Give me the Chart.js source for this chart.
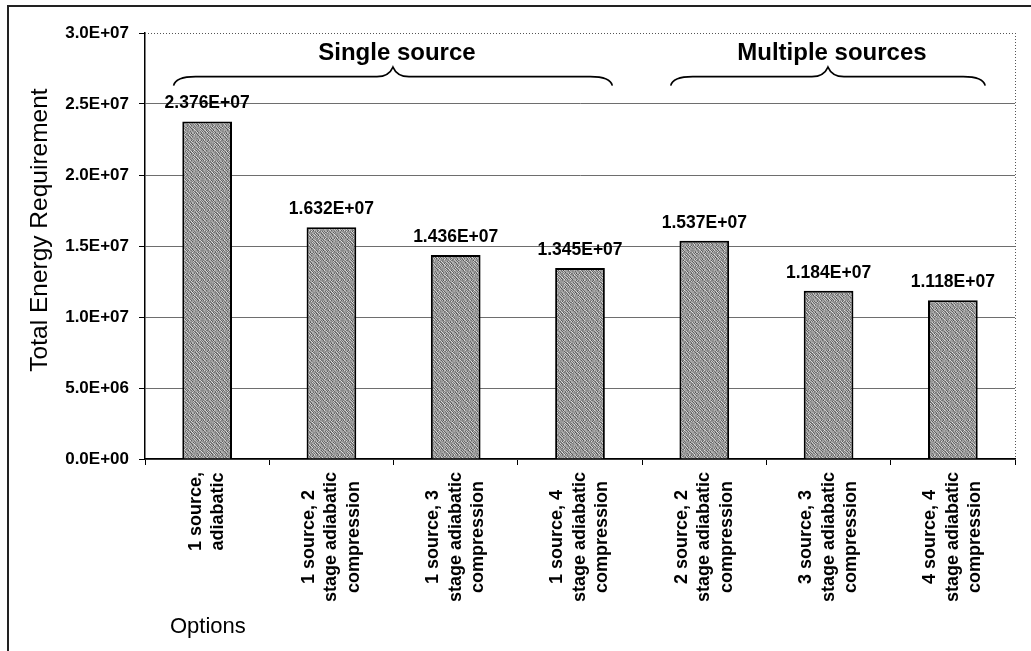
<!DOCTYPE html>
<html>
<head>
<meta charset="utf-8">
<script src="https://cdn.jsdelivr.net/npm/chart.js@4/dist/chart.umd.min.js"></script>
<style>
  html, body { margin: 0; padding: 0; background: #fff; }
  #wrap { width: 1031px; height: 651px; position: relative; }
</style>
</head>
<body>
<div id="wrap"><canvas id="c" width="1031" height="651"></canvas></div>
<script>
// Option names, one array of text lines per bar
const categories = [
  ['1 source,', 'adiabatic'],
  ['1 source, 2', 'stage adiabatic', 'compression'],
  ['1 source, 3', 'stage adiabatic', 'compression'],
  ['1 source, 4', 'stage adiabatic', 'compression'],
  ['2 source, 2', 'stage adiabatic', 'compression'],
  ['3 source, 3', 'stage adiabatic', 'compression'],
  ['4 source, 4', 'stage adiabatic', 'compression']
];

// Total energy requirement per option
const energyValues = [2.376e7, 1.632e7, 1.436e7, 1.345e7, 1.537e7, 1.184e7, 1.118e7];

// Value-axis ticks
const yTicks = [0, 5e6, 1e7, 1.5e7, 2e7, 2.5e7, 3e7];

// Bracketed groups above the bars (indices into categories)
const groupNames = ['Single source', 'Multiple sources'];
const groupFrom = [0, 4];
const groupTo = [3, 6];

const FONT = '"Liberation Sans", Arial, sans-serif';

// Excel-style scientific notation, e.g. 2.376E+07
function sci(v, digits) {
  if (v === 0) return (0).toFixed(digits) + 'E+00';
  let exp = Math.floor(Math.log10(Math.abs(v)));
  let man = v / Math.pow(10, exp);
  if (Math.abs(parseFloat(man.toFixed(digits))) >= 10) { exp += 1; man = v / Math.pow(10, exp); }
  const sign = exp < 0 ? '-' : '+';
  const e = String(Math.abs(exp)).padStart(2, '0');
  return man.toFixed(digits) + 'E' + sign + e;
}

// Grainy grey fill for the bars: two small tiles of different period overlaid
function makeStipple(ctx) {
  const A = [
    210, 120, 180,  95, 230,
    150, 235, 110, 200, 140,
    100, 170, 245, 130, 190,
    225,  90, 155, 215, 120,
    140, 200, 105, 170, 240
  ];
  const B = [
    120, 200,  90, 230, 160, 110, 190,
    180, 100, 220, 140,  80, 210, 150,
    240, 150, 110, 190, 230, 120, 100,
     90, 210, 170, 100, 150, 240, 130,
    160, 120, 240,  80, 200, 140, 220,
    210,  90, 140, 230, 110, 180, 120,
    130, 230, 100, 160, 220,  90, 200
  ];
  const n = 35;
  const c = document.createElement('canvas');
  c.width = n; c.height = n;
  const g = c.getContext('2d');
  const img = g.createImageData(n, n);
  for (let y = 0; y < n; y++) {
    for (let x = 0; x < n; x++) {
      const a = A[(y % 5) * 5 + (x % 5)];
      const b = B[(y % 7) * 7 + (x % 7)];
      const v = Math.max(0, Math.min(255, Math.round((a + b) / 2 - 12)));
      const k = (y * n + x) * 4;
      img.data[k] = v; img.data[k + 1] = v; img.data[k + 2] = v; img.data[k + 3] = 255;
    }
  }
  g.putImageData(img, 0, 0);
  return ctx.createPattern(c, 'repeat');
}

const ctx0 = document.getElementById('c').getContext('2d');

// Frame, dotted plot edges and the y-axis / x-axis titles
const framePlugin = {
  id: 'frame',
  beforeDraw(chart) {
    const ctx = chart.ctx;
    ctx.save();
    ctx.fillStyle = '#fff';
    ctx.fillRect(0, 0, chart.width, chart.height);
    ctx.strokeStyle = '#222';
    ctx.lineWidth = 2;
    ctx.beginPath();
    ctx.moveTo(8, chart.height);
    ctx.lineTo(8, 6);
    ctx.lineTo(chart.width, 6);
    ctx.stroke();
    ctx.restore();
  },
  afterDraw(chart) {
    const ctx = chart.ctx;
    const a = chart.chartArea;
    ctx.save();
    // dotted top and right edges of the plot area
    ctx.strokeStyle = '#555';
    ctx.lineWidth = 1;
    ctx.setLineDash([1, 2]);
    ctx.beginPath();
    ctx.moveTo(a.left, a.top + 0.5);
    ctx.lineTo(a.right, a.top + 0.5);
    ctx.moveTo(a.right + 0.5, a.top);
    ctx.lineTo(a.right + 0.5, a.bottom);
    ctx.stroke();
    ctx.setLineDash([]);

    // axis titles
    ctx.fillStyle = '#000';
    ctx.font = '24.5px ' + FONT;
    ctx.textAlign = 'center';
    ctx.textBaseline = 'middle';
    ctx.save();
    ctx.translate(40, 230);
    ctx.rotate(-Math.PI / 2);
    ctx.fillText('Total Energy Requirement', 0, 0);
    ctx.restore();
    ctx.font = '22px ' + FONT;
    ctx.textAlign = 'left';
    ctx.fillText('Options', 170, 627);
    ctx.restore();
  }
};

// Rotated, multi-line category labels under the x axis
const catLabelPlugin = {
  id: 'catLabels',
  afterDraw(chart) {
    const ctx = chart.ctx;
    const xs = chart.scales.x;
    const top = chart.chartArea.bottom + 13;
    const lineGap = 22.5;
    ctx.save();
    ctx.fillStyle = '#000';
    ctx.font = 'bold 18px ' + FONT;
    ctx.textAlign = 'center';
    ctx.textBaseline = 'middle';
    categories.forEach((lines, i) => {
      const cx = xs.getPixelForValue(i);
      const maxW = Math.max(...lines.map(l => ctx.measureText(l).width));
      const cy = top + maxW / 2;
      lines.forEach((line, j) => {
        ctx.save();
        ctx.translate(cx + (j - (lines.length - 1) / 2) * lineGap, cy);
        ctx.rotate(-Math.PI / 2);
        ctx.fillText(line, 0, 0);
        ctx.restore();
      });
    });
    ctx.restore();
  }
};

// Value labels above each bar
const valueLabelPlugin = {
  id: 'valueLabels',
  afterDatasetsDraw(chart) {
    const ctx = chart.ctx;
    const meta = chart.getDatasetMeta(0);
    ctx.save();
    ctx.fillStyle = '#000';
    ctx.font = 'bold 17.5px ' + FONT;
    ctx.textAlign = 'center';
    ctx.textBaseline = 'middle';
    meta.data.forEach((bar, i) => {
      ctx.fillText(sci(energyValues[i], 3), bar.x, bar.y - 18);
    });
    ctx.restore();
  }
};

// Curly braces with group captions
const bracePlugin = {
  id: 'braces',
  afterDraw(chart) {
    const ctx = chart.ctx;
    const xs = chart.scales.x;
    const ys = chart.scales.y;
    const w = (xs.right - xs.left) / categories.length;
    const yLine = ys.getPixelForValue(2.7e7) + 1;
    const yTip = ys.getPixelForValue(2.76e7);
    const yEnd = yLine + 9;
    ctx.save();
    ctx.strokeStyle = '#000';
    ctx.lineWidth = 1.6;
    ctx.fillStyle = '#000';
    ctx.font = 'bold 24px ' + FONT;
    ctx.textAlign = 'center';
    ctx.textBaseline = 'middle';
    groupNames.forEach((name, g) => {
      const x0 = xs.getPixelForValue(groupFrom[g]) - 0.27 * w;
      const x1 = xs.getPixelForValue(groupTo[g]) + 0.26 * w;
      const xm = (x0 + x1) / 2;
      ctx.beginPath();
      ctx.moveTo(x0, yEnd);
      ctx.quadraticCurveTo(x0 + 2, yLine, x0 + 22, yLine);
      ctx.lineTo(xm - 16, yLine);
      ctx.quadraticCurveTo(xm - 4, yLine, xm, yTip);
      ctx.quadraticCurveTo(xm + 4, yLine, xm + 16, yLine);
      ctx.lineTo(x1 - 22, yLine);
      ctx.quadraticCurveTo(x1 - 2, yLine, x1, yEnd);
      ctx.stroke();
      ctx.fillText(name, xm + 4, ys.getPixelForValue(2.86e7));
    });
    ctx.restore();
  }
};

new Chart(ctx0, {
  type: 'bar',
  data: {
    labels: categories,
    datasets: [{
      data: energyValues,
      backgroundColor: makeStipple(ctx0),
      borderColor: '#000',
      borderWidth: 2,
      barPercentage: 0.4,
      categoryPercentage: 1.0
    }]
  },
  options: {
    responsive: false,
    animation: false,
    layout: { padding: { top: 33, right: 16, left: 0, bottom: 0 } },
    plugins: {
      legend: { display: false },
      tooltip: { enabled: false }
    },
    scales: {
      x: {
        offset: true,
        grid: {
          offset: true,
          drawOnChartArea: false,
          drawTicks: true,
          tickLength: 6,
          tickColor: '#000'
        },
        border: { color: '#000', width: 1.5 },
        ticks: { display: false },
        afterFit(s) { s.height = 192; }
      },
      y: {
        min: 0,
        max: 3e7,
        afterBuildTicks(s) { s.ticks = yTicks.map(v => ({ value: v })); },
        ticks: {
          color: '#000',
          font: { family: FONT, size: 17, weight: 'bold' },
          padding: 10,
          callback: v => sci(v, 1)
        },
        grid: {
          color: c => (c.tick && c.tick.value === 3e7) ? 'rgba(0,0,0,0)' : '#6e6e6e',
          lineWidth: 1,
          tickColor: '#000',
          tickLength: 6
        },
        border: { color: '#000', width: 1.5 },
        afterFit(s) { s.width = 145; }
      }
    }
  },
  plugins: [framePlugin, valueLabelPlugin, catLabelPlugin, bracePlugin]
});
</script>
</body>
</html>
